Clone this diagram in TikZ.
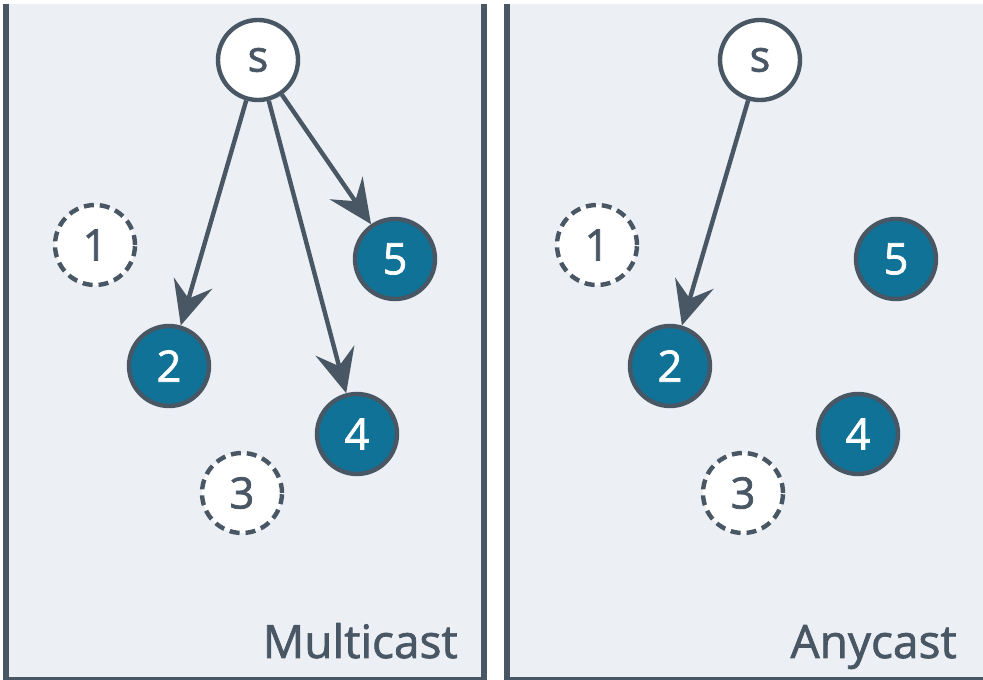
\documentclass[tikz,border=0pt]{standalone}
\usepackage{fontspec}
\setmainfont{Open Sans}
\newfontface\semibold{Open Sans}[FakeBold=1.6]
\usetikzlibrary{arrows.meta}

\definecolor{panelbg}{RGB}{236,239,244}
\definecolor{slate}{RGB}{73,87,101}
\definecolor{nodeteal}{RGB}{15,114,150}

\begin{document}
\begin{tikzpicture}[
    x=0.75pt, y=-0.75pt,
    font=\semibold\fontsize{32.5}{40}\selectfont,
    >={Stealth[length=33pt, width=30pt, inset=12pt]},
    panel/.style={fill=panelbg},
    border/.style={draw=slate, line width=4.5pt},
    baseline/.style={draw=slate, line width=2.25pt},
    source/.style={circle, draw=slate, line width=3.3pt, fill=white, text=slate, minimum size=60pt, inner sep=0pt},
    member/.style={circle, draw=slate, line width=3.3pt, fill=nodeteal, text=white, minimum size=60pt, inner sep=0pt},
    idle/.style={circle, draw=slate, line width=3.3pt, dash pattern=on 7.5pt off 4.5pt, fill=white, text=slate, minimum size=60pt, inner sep=0pt},
    title/.style={text=slate, font=\semibold\fontsize{34.5}{40}\selectfont, anchor=base east, inner sep=0pt},
    arrow/.style={->, draw=slate, line width=3.3pt}
]

    % Background and panels
    \useasboundingbox [fill=white] (0,0) rectangle (983,680);
    \fill [panel] (3,4) rectangle (484,680);
    \fill [panel] (507,4) rectangle (983,680);
    \draw [baseline] (3,678.5) -- (487,678.5);
    \draw [baseline] (504,678.5) -- (983,678.5);
    \draw [border] (6,4) -- (6,680);
    \draw [border] (484,4) -- (484,680);
    \draw [border] (507,4) -- (507,680);

    % Multicast
    \node (src_multi) [source] at (258,60) {s};
    \node (n1_multi) [idle] at (95,245) {1};
    \node (n2_multi) [member] at (169,366) {2};
    \node (n3_multi) [idle] at (242,493) {3};
    \node (n4_multi) [member] at (357,434) {4};
    \node (n5_multi) [member] at (395,259) {5};
    \node (lbl_multi) [title] at (458,658) {Multicast};

    % Anycast
    \node (src_any) [source] at (760,60) {s};
    \node (n1_any) [idle] at (597,245) {1};
    \node (n2_any) [member] at (670,366) {2};
    \node (n3_any) [idle] at (743,493) {3};
    \node (n4_any) [member] at (858,434) {4};
    \node (n5_any) [member] at (896,259) {5};
    \node (lbl_any) [title] at (957,658) {Anycast};

    % Arrows
    \draw [arrow] (src_multi) -- (n2_multi);
    \draw [arrow] (src_multi) -- (n4_multi);
    \draw [arrow] (src_multi) -- (n5_multi);
    \draw [arrow] (src_any) -- (n2_any);

\end{tikzpicture}
\end{document}
